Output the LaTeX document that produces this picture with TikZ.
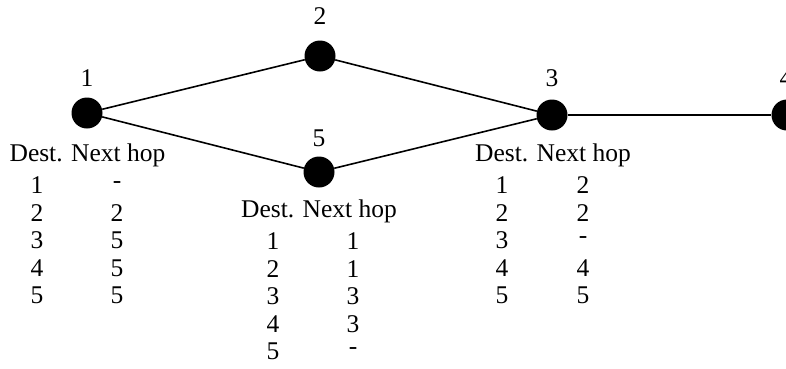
\documentclass[tikz,border=0pt]{standalone}
\usepackage{fontspec}
\setmainfont{Liberation Serif}
\begin{document}
\begin{tikzpicture}[x=1pt,y=-1pt,
  vert/.style={circle,fill=black,inner sep=0pt,minimum size=31pt},
  lbl/.style={inner sep=0pt,font=\fontsize{25.5}{29}\selectfont},
  cell/.style={inner sep=0pt,font=\fontsize{25.5}{29}\selectfont},
  link/.style={line width=1.6pt}]
\clip (0,0) rectangle (786,368);
\useasboundingbox (0,0) rectangle (786,368);
% vertices
\node[vert] (n1) at (87,113) {};
\node[vert] (n2) at (320,56) {};
\node[vert] (n5) at (319,172) {};
\node[vert] (n3) at (552,115) {};
\node[vert] (n4) at (787,115) {};
% labels
\node[lbl] (l1) at (87,78) {1};
\node[lbl] (l2) at (320,16) {2};
\node[lbl] (l5) at (319,138) {5};
\node[lbl] (l3) at (552,78) {3};
\node[lbl] (l4) at (786,78) {4};
% links
\draw[link] (n1) -- (n2);
\draw[link] (n1) -- (n5);
\draw[link] (n2) -- (n3);
\draw[link] (n5) -- (n3);
\draw[link] (n3) -- (n4);
% table of node 1
\node[cell] (h1) at (87.5,155) {Dest. Next hop};
\foreach \d/\n [count=\i] in {1/-,2/2,3/5,4/5,5/5} {
  \node[cell] (a\i) at (37,{185+27.6*(\i-1)}) {\d};
  \node[cell] (b\i) at (117,{185+27.6*(\i-1)}) {\n};
}
% table of node 5
\node[cell] (h5) at (319,211) {Dest. Next hop};
\foreach \d/\n [count=\i] in {1/1,2/1,3/3,4/3,5/-} {
  \node[cell] (c\i) at (273,{241+27.6*(\i-1)}) {\d};
  \node[cell] (d\i) at (353,{241+27.6*(\i-1)}) {\n};
}
% table of node 3
\node[cell] (h3) at (553,155) {Dest. Next hop};
\foreach \d/\n [count=\i] in {1/2,2/2,3/-,4/4,5/5} {
  \node[cell] (e\i) at (502,{185+27.6*(\i-1)}) {\d};
  \node[cell] (f\i) at (583,{185+27.6*(\i-1)}) {\n};
}
\end{tikzpicture}
\end{document}
